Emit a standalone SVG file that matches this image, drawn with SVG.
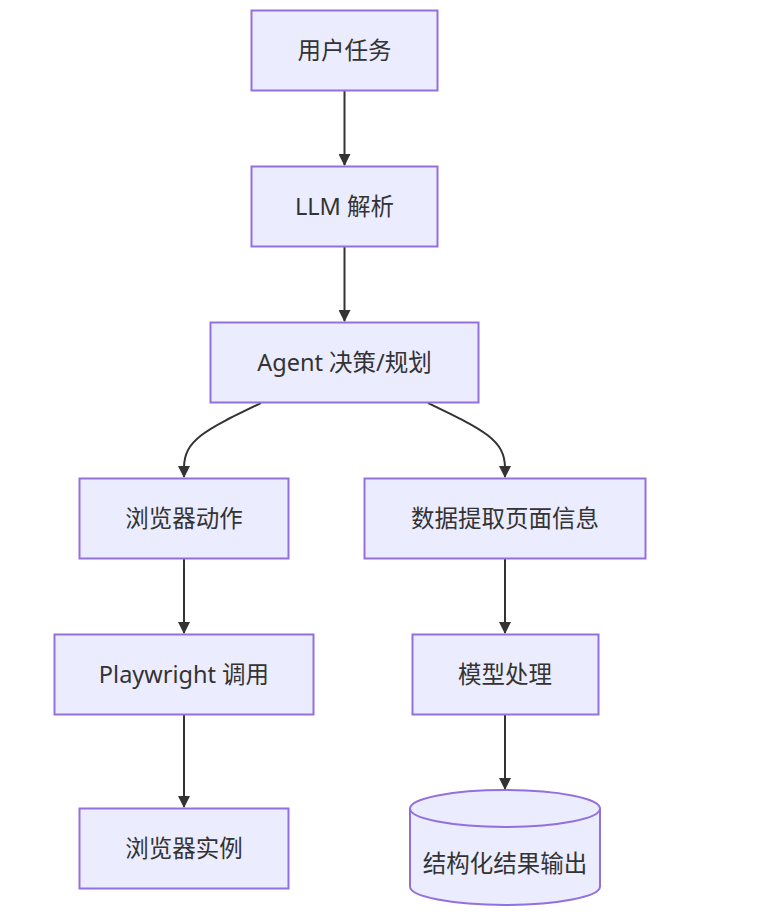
<svg xmlns="http://www.w3.org/2000/svg" width="782" height="912" viewBox="0 0 782 912">
<style>
.node rect,.node path,.node ellipse{fill:#ECECFF;stroke:#9370DB;stroke-width:2}
.node text{font-family:"Noto Sans","Noto Sans CJK SC",sans-serif;font-size:23.5px;fill:#333;text-anchor:middle;dominant-baseline:central}
.edges path{fill:none;stroke:#333;stroke-width:2}
</style>
<defs>
<marker id="arr" viewBox="0 0 12 12" refX="11" refY="6" markerWidth="12" markerHeight="12" markerUnits="userSpaceOnUse" orient="auto">
<path d="M0,0 L12,6 L0,12 z" fill="#333"/>
</marker>
</defs>
<rect width="782" height="912" fill="#fff"/>
<g class="edges">
<path d="M344.5,91 L344.5,165" marker-end="url(#arr)"/>
<path d="M344.5,247 L344.5,321" marker-end="url(#arr)"/>
<path d="M261,403 C205,430 184,440 184,468 L184,477" marker-end="url(#arr)"/>
<path d="M428,403 C484,430 505,440 505,468 L505,477" marker-end="url(#arr)"/>
<path d="M184,559 L184,633" marker-end="url(#arr)"/>
<path d="M505,559 L505,633" marker-end="url(#arr)"/>
<path d="M184,715 L184,807" marker-end="url(#arr)"/>
<path d="M505,715 L505,789" marker-end="url(#arr)"/>
</g>
<g id="A" class="node"><rect x="251.5" y="10.5" width="186" height="80"/><text x="344.5" y="50">用户任务</text></g>
<g id="B" class="node"><rect x="251.5" y="166.5" width="186" height="80"/><text x="344.5" y="206">LLM 解析</text></g>
<g id="C" class="node"><rect x="210.5" y="322.5" width="268" height="80"/><text x="344.5" y="362">Agent 决策/规划</text></g>
<g id="D" class="node"><rect x="79.5" y="478.5" width="209" height="80"/><text x="184" y="518">浏览器动作</text></g>
<g id="E" class="node"><rect x="364.5" y="478.5" width="281" height="80"/><text x="505" y="518">数据提取页面信息</text></g>
<g id="F" class="node"><rect x="54.5" y="634.5" width="259" height="80"/><text x="184" y="674">Playwright 调用</text></g>
<g id="G" class="node"><rect x="412.5" y="634.5" width="186" height="80"/><text x="505" y="674">模型处理</text></g>
<g id="H" class="node"><rect x="79.5" y="808.5" width="209" height="80"/><text x="184" y="848">浏览器实例</text></g>
<g id="I" class="node"><path d="M410,808.5 A95,18.5 0 0 1 600,808.5 L600,886.5 A95,18.5 0 0 1 410,886.5 Z"/><path d="M410,808.5 A95,18.5 0 0 0 600,808.5" style="fill:none"/><text x="505" y="863">结构化结果输出</text></g>
</svg>
